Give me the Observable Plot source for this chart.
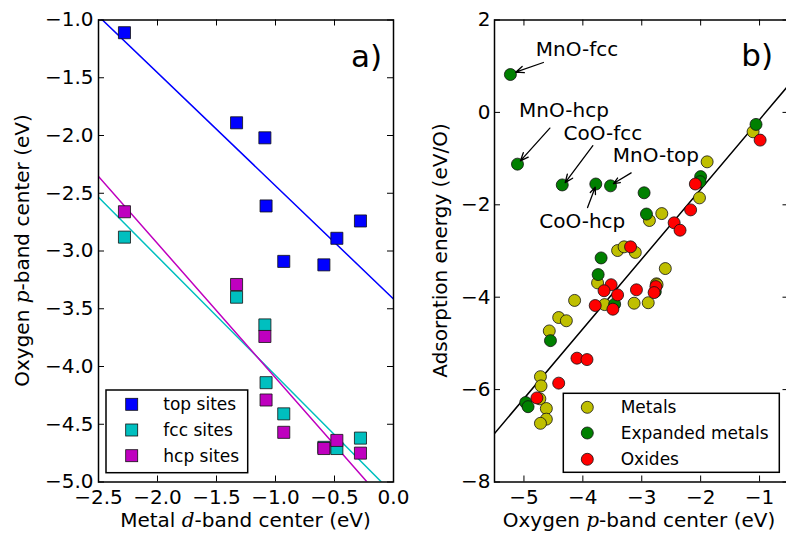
<!DOCTYPE html>
<html>
<head>
<meta charset="utf-8">
<script src="https://cdn.jsdelivr.net/npm/d3@7"></script>
<script src="https://cdn.jsdelivr.net/npm/@observablehq/plot@0.6"></script>
<style>
  body { margin: 0; background: #fff; }
  #wrap { position: relative; width: 786px; height: 535px; overflow: hidden; background: #fff; }
  #wrap > svg { position: absolute; top: 0; max-width: none; }
</style>
</head>
<body>
<div id="wrap"></div>
<script>
// ---------- Panel a) data ----------
const siteX = [-2.28, -1.33, -1.09, -1.08, -0.93, -0.59, -0.48, -0.28];
const topY  = [-1.11, -1.89, -2.02, -2.61, -3.09, -3.12, -2.89, -2.74];
const fccY  = [-2.88, -3.40, -3.64, -4.14, -4.41, -4.70, -4.71, -4.62];
const hcpY  = [-2.66, -3.29, -3.74, -4.29, -4.57, -4.71, -4.64, -4.75];
const fitXA    = [-2.5, 0];
const topFitY  = [-0.967, -3.415];
const fccFitY  = [-2.535, -5.105];
const hcpFitY  = [-2.354, -5.26];
const siteNames  = ["top sites", "fcc sites", "hcp sites"];
const siteColors = ["#0000ff", "#00bfbf", "#bf00bf"];
const xTicksA = [-2.5, -2.0, -1.5, -1.0, -0.5, 0.0];
const yTicksA = [-5.0, -4.5, -4.0, -3.5, -3.0, -2.5, -2.0, -1.5, -1.0];

// ---------- Panel b) data ----------
const metalsX = [-1.89, -2.02, -1.11, -2.66, -2.87, -3.41, -3.30, -3.11, -2.60, -3.75, -4.14, -3.63, -3.13, -2.89, -2.75, -2.74, -4.41, -4.28, -4.57, -4.72, -4.71, -4.73, -4.62, -4.62, -4.72];
const metalsY = [-1.07, -1.85, -0.42, -2.19, -2.34, -2.99, -2.91, -3.03, -3.38, -3.69, -4.07, -4.16, -4.13, -4.12, -3.71, -3.73, -4.44, -4.51, -4.73, -5.72, -5.92, -6.20, -6.41, -6.64, -6.73];
const expandedX = [-5.23, -5.11, -4.35, -3.78, -3.53, -2.96, -2.92, -2.00, -2.01, -1.06, -3.69, -3.74, -3.46, -4.55, -4.97, -4.93, -2.77];
const expandedY = [0.82, -1.12, -1.57, -1.55, -1.59, -1.74, -2.20, -1.39, -1.50, -0.26, -3.15, -3.51, -4.15, -4.94, -6.28, -6.37, -3.88];
const oxidesX = [-0.99, -2.09, -2.17, -2.45, -2.35, -3.19, -3.52, -3.64, -3.41, -3.09, -3.79, -3.49, -2.76, -2.79, -4.10, -3.93, -4.41, -4.78];
const oxidesY = [-0.60, -1.55, -2.11, -2.39, -2.55, -2.91, -3.73, -3.86, -3.95, -3.84, -4.18, -4.26, -3.77, -3.90, -5.32, -5.35, -5.86, -6.18];
const fitXB = [-5.5, -0.5];
const fitYB = [-6.95, 0.60];
const groupNames  = ["Metals", "Expanded metals", "Oxides"];
const groupColors = ["#bfbf00", "#008000", "#ff0000"];
const xTicksB = [-5, -4, -3, -2, -1];
const yTicksB = [-8, -6, -4, -2, 0, 2];

// annotations: label, text position, arrow tail, arrow head (data coords)
const annLabels = ["MnO-fcc", "MnO-hcp", "CoO-fcc", "MnO-top", "CoO-hcp"];
const annTextX  = [-4.10, -4.32, -3.66, -2.76, -4.01];
const annTextY  = [1.36, 0.04, -0.45, -0.93, -2.37];
const annTailX  = [-4.67, -4.56, -3.83, -3.18, -3.92];
const annTailY  = [1.08, -0.34, -0.72, -1.31, -2.06];
const annHeadX  = [-5.14, -5.06, -4.30, -3.48, -3.79];
const annHeadY  = [0.87, -1.05, -1.52, -1.54, -1.62];

// axis labels
const xLabelA = [["Metal ", false], ["d", true], ["-band center (eV)", false]];
const yLabelA = [["Oxygen ", false], ["p", true], ["-band center (eV)", false]];
const xLabelB = [["Oxygen ", false], ["p", true], ["-band center (eV)", false]];
const yLabelB = [["Adsorption energy (eV/O)", false]];

// ---------- helpers ----------
const FONT = "DejaVu Sans";
const zipXY = (xs, ys) => xs.map((x, i) => ({x, y: ys[i]}));
const H = 535, MT = 19.5, MB = 53.5;

function frameTicks(xt, yt, innerW, innerH) {
  const L = 6;
  return [
    Plot.tickX(xt, {x: d => d, insetTop: innerH - L, stroke: "black", strokeWidth: 1}),
    Plot.tickX(xt, {x: d => d, insetBottom: innerH - L, stroke: "black", strokeWidth: 1}),
    Plot.tickY(yt, {y: d => d, insetRight: innerW - L, stroke: "black", strokeWidth: 1}),
    Plot.tickY(yt, {y: d => d, insetLeft: innerW - L, stroke: "black", strokeWidth: 1})
  ];
}

function addLabel(svg, x, y, parts, rotate) {
  const t = d3.select(svg).append("text")
    .attr("text-anchor", "middle")
    .attr("font-family", FONT)
    .attr("font-size", 20)
    .attr("fill", "black")
    .attr("transform", rotate ? `translate(${x},${y}) rotate(-90)` : `translate(${x},${y})`);
  parts.forEach(([s, it]) => {
    const ts = t.append("tspan").text(s);
    if (it) ts.attr("font-family", "DejaVu Serif").attr("font-style", "italic");
  });
}

function addLegend(svg, box, markerX, rows, textX, names, colors, square) {
  const g = d3.select(svg).append("g");
  g.append("rect").attr("x", box[0]).attr("y", box[1]).attr("width", box[2]).attr("height", box[3])
    .attr("fill", "white").attr("stroke", "black").attr("stroke-width", 1.5);
  names.forEach((n, i) => {
    if (square) {
      g.append("rect").attr("x", markerX - 6).attr("y", rows[i] - 6).attr("width", 12).attr("height", 12)
        .attr("fill", colors[i]).attr("stroke", "#111").attr("stroke-width", 0.8);
    } else {
      g.append("circle").attr("cx", markerX).attr("cy", rows[i]).attr("r", 6)
        .attr("fill", colors[i]).attr("stroke", "#111").attr("stroke-width", 0.8);
    }
    g.append("text").attr("x", textX).attr("y", rows[i] + 6).attr("font-family", FONT)
      .attr("text-anchor", "start")
      .attr("font-size", 17).attr("fill", "black").text(n);
  });
}

function addPanelTag(svg, x, y, s) {
  d3.select(svg).append("text").attr("x", x).attr("y", y).attr("text-anchor", "end")
    .attr("font-family", FONT).attr("font-size", 31).attr("fill", "black").text(s);
}

// ---------- Panel a ----------
const WA = 440, MLA = 98, MRA = 47;
const innerWA = WA - MLA - MRA, innerH = H - MT - MB;
const seriesY = [topY, fccY, hcpY];
const fitsA = [topFitY, fccFitY, hcpFitY];

const plotA = Plot.plot({
  width: WA, height: H, marginLeft: MLA, marginRight: MRA, marginTop: MT, marginBottom: MB,
  x: {domain: [-2.5, 0], label: null},
  y: {domain: [-5, -1], label: null},
  style: {fontFamily: FONT, background: "white", overflow: "visible"},
  marks: [
    ...fitsA.map((fy, i) => Plot.line(zipXY(fitXA, fy), {x: "x", y: "y", stroke: siteColors[i], strokeWidth: 1.5, clip: true})),
    ...seriesY.map((ys, i) => Plot.dot(zipXY(siteX, ys), {x: "x", y: "y", symbol: "square", r: 6.8, fill: siteColors[i], stroke: "#111", strokeWidth: 0.8})),
    Plot.frame({stroke: "black", strokeWidth: 1.5}),
    ...frameTicks(xTicksA, yTicksA, innerWA, innerH),
    Plot.axisX({ticks: xTicksA, anchor: "bottom", tickSize: 0, tickPadding: 7.5, tickFormat: d3.format(".1f"), fontSize: 20, label: null}),
    Plot.axisY({ticks: yTicksA, anchor: "left", tickSize: 0, tickPadding: 5, tickFormat: d3.format(".1f"), fontSize: 20, label: null})
  ]
});
plotA.style.left = "0px";
addLabel(plotA, MLA + innerWA / 2, 527, xLabelA, false);
addLabel(plotA, 29, MT + innerH / 2, yLabelA, true);
addLegend(plotA, [106, 390, 141.7, 82.7], 131.7, [404.3, 430, 455.7], 163.3, siteNames, siteColors, true);
addPanelTag(plotA, 382, 67, "a)");

// ---------- Panel b ----------
const OFFB = 440, WB = 349, MLB = 54, MRB = 0.5;
const innerWB = WB - MLB - MRB;
const groupsX = [metalsX, expandedX, oxidesX];
const groupsY = [metalsY, expandedY, oxidesY];
const ann = annLabels.map((l, i) => ({l, tx: annTextX[i], ty: annTextY[i], x1: annTailX[i], y1: annTailY[i], x2: annHeadX[i], y2: annHeadY[i]}));

const plotB = Plot.plot({
  width: WB, height: H, marginLeft: MLB, marginRight: MRB, marginTop: MT, marginBottom: MB,
  x: {domain: [-5.5, -0.5], label: null},
  y: {domain: [-8, 2], label: null},
  style: {fontFamily: FONT, background: "white", overflow: "visible"},
  marks: [
    Plot.line(zipXY(fitXB, fitYB), {x: "x", y: "y", stroke: "black", strokeWidth: 1.5, clip: true}),
    ...groupsX.map((xs, i) => Plot.dot(zipXY(xs, groupsY[i]), {x: "x", y: "y", r: 6, fill: groupColors[i], stroke: "#111", strokeWidth: 0.8})),
    Plot.arrow(ann, {x1: "x1", y1: "y1", x2: "x2", y2: "y2", stroke: "black", strokeWidth: 1.3, headLength: 10, headAngle: 45}),
    Plot.text(ann, {x: "tx", y: "ty", text: "l", fontSize: 20, fill: "black", lineAnchor: "middle"}),
    Plot.frame({stroke: "black", strokeWidth: 1.5}),
    ...frameTicks(xTicksB, yTicksB, innerWB, innerH),
    Plot.axisX({ticks: xTicksB, anchor: "bottom", tickSize: 0, tickPadding: 7.5, tickFormat: d3.format("d"), fontSize: 20, label: null}),
    Plot.axisY({ticks: yTicksB, anchor: "left", tickSize: 0, tickPadding: 4, tickFormat: d3.format("d"), fontSize: 20, label: null})
  ]
});
plotB.style.left = OFFB + "px";
addLabel(plotB, 639 - OFFB, 527, xLabelB, false);
addLabel(plotB, 447 - OFFB, MT + innerH / 2, yLabelB, true);
addLegend(plotB, [563.3 - OFFB, 393.3, 216, 79], 587.3 - OFFB, [407.3, 433, 459.3], 620.7 - OFFB, groupNames, groupColors, false);
addPanelTag(plotB, 773 - OFFB, 66, "b)");

const wrap = document.getElementById("wrap");
wrap.appendChild(plotA);
wrap.appendChild(plotB);
</script>
</body>
</html>
